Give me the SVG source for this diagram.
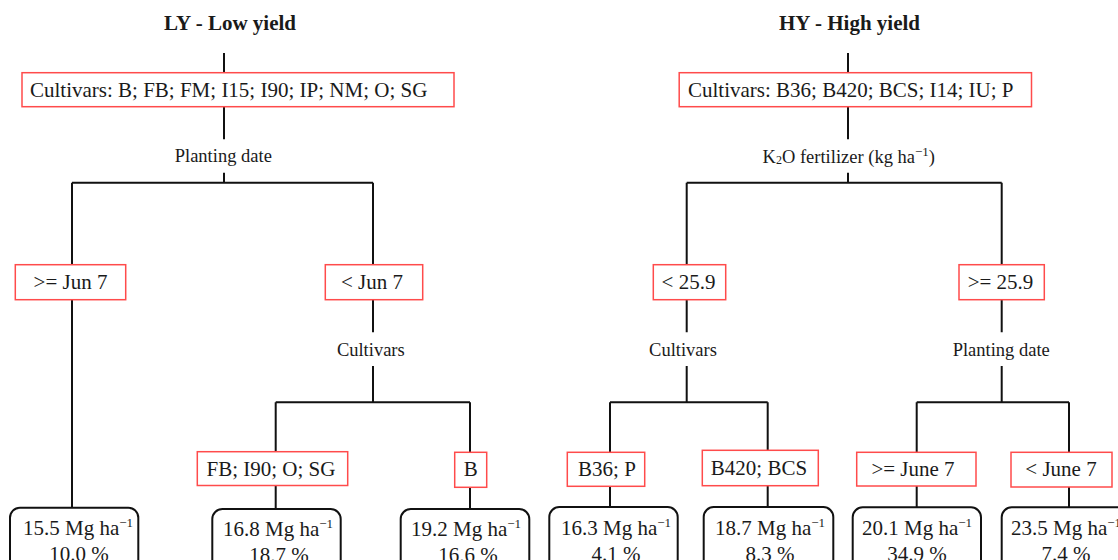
<svg xmlns="http://www.w3.org/2000/svg" width="1118" height="560" viewBox="0 0 1118 560">
<style>
text{font-family:"Liberation Serif","Times New Roman",serif;fill:#1a1a1a}
.title{font-size:21px;font-weight:bold;text-anchor:middle}
.bx{font-size:21px}
.c{text-anchor:middle}
.lbl{font-size:18.5px;text-anchor:middle}
.rb{fill:#fff;stroke:#ff4b4b;stroke-width:1.5}
.lf{fill:#fff;stroke:#111;stroke-width:2}
.ln{stroke:#111;stroke-width:2;fill:none}
.sup{font-size:13px}
</style>
<rect width="1118" height="560" fill="#fff"/>
<g id="connectors" class="ln">
<path d="M224 53V72.7M224 106.7V139.3M224 172.7V182.7M72 182.7H373M72 182.7V264.7M373 182.7V264.7"/>
<path d="M72 299.7V507.7"/>
<path d="M373 299.7V332.3M373 366V402.3M275.7 402.3H470M275.7 402.3V451.7M470 402.3V452.3M275.7 485.5V509M470 487.3V509"/>
<path d="M848 53V72.7M848 106.7V139.3M848 172.7V182.7M686.7 182.7H1001.7M686.7 182.7V264.7M1001.7 182.7V264.7"/>
<path d="M686.7 299.7V332.3M686.7 366V402.3M610 402.3H767.7M610 402.3V452.3M767.7 402.3V450.3M610 486.3V507M767.7 485.7V507"/>
<path d="M1001.7 299.7V332.3M1001.7 366V402.3M916.7 402.3H1069M916.7 402.3V452.3M1069 402.3V452.3M916.7 486V507.3M1069 487V507.3"/>
</g>
<g id="title-ly"><text class="title" x="230" y="30">LY - Low yield</text></g>
<g id="title-hy"><text class="title" x="849.5" y="30">HY - High yield</text></g>
<g id="root-ly"><rect class="rb" x="22" y="72.7" width="432" height="34"/><text class="bx" x="30" y="97.3">Cultivars: B; FB; FM; I15; I90; IP; NM; O; SG</text></g>
<g id="root-hy"><rect class="rb" x="679.2" y="72.7" width="352.3" height="34"/><text class="bx" x="688" y="97.3">Cultivars: B36; B420; BCS; I14; IU; P</text></g>
<g id="split-ly-1"><text class="lbl" x="223.3" y="162.3">Planting date</text></g>
<g id="split-hy-1"><text class="lbl" x="848.8" y="163.3">K<tspan font-size="12" dy="1">2</tspan><tspan dy="-1">O fertilizer (kg ha</tspan><tspan class="sup" dy="-7">−1</tspan><tspan dy="7">)</tspan></text></g>
<g id="cond-ly-ge"><rect class="rb" x="15.3" y="264.7" width="110.4" height="35"/><text class="bx c" x="70.5" y="289.3">&gt;= Jun 7</text></g>
<g id="cond-ly-lt"><rect class="rb" x="325.3" y="264.7" width="97.4" height="35"/><text class="bx c" x="372" y="289.3">&lt; Jun 7</text></g>
<g id="cond-hy-lt"><rect class="rb" x="653.3" y="264.7" width="72.4" height="35"/><text class="bx c" x="688.5" y="289.3">&lt; 25.9</text></g>
<g id="cond-hy-ge"><rect class="rb" x="959" y="264.7" width="85.3" height="35"/><text class="bx c" x="1000.5" y="289.3">&gt;= 25.9</text></g>
<g id="split-ly-2"><text class="lbl" x="370.8" y="355.7">Cultivars</text></g>
<g id="split-hy-2"><text class="lbl" x="683" y="355.7">Cultivars</text></g>
<g id="split-hy-3"><text class="lbl" x="1001.2" y="355.7">Planting date</text></g>
<g id="cond-ly-fb"><rect class="rb" x="197.3" y="451.7" width="150.4" height="33.8"/><text class="bx c" x="271" y="475.7">FB; I90; O; SG</text></g>
<g id="cond-ly-b"><rect class="rb" x="454.7" y="452.3" width="32" height="35"/><text class="bx c" x="470.7" y="476.3">B</text></g>
<g id="cond-hy-b36"><rect class="rb" x="567.3" y="452.3" width="77.4" height="34"/><text class="bx c" x="607" y="476">B36; P</text></g>
<g id="cond-hy-b420"><rect class="rb" x="702.3" y="450.3" width="116" height="35.4"/><text class="bx c" x="759" y="475">B420; BCS</text></g>
<g id="cond-hy-gejune"><rect class="rb" x="856.7" y="452.3" width="119.3" height="33.7"/><text class="bx c" x="913" y="476">&gt;= June 7</text></g>
<g id="cond-hy-ltjune"><rect class="rb" x="1011" y="452.3" width="101" height="34.7"/><text class="bx c" x="1061" y="476">&lt; June 7</text></g>
<g id="leaf-1"><rect class="lf" x="10" y="507.7" width="128.3" height="80" rx="10"/><text class="bx c" x="78" y="535">15.5 Mg ha<tspan class="sup" dy="-8">−1</tspan></text><text class="bx c" x="79" y="561">10.0 %</text></g>
<g id="leaf-2"><rect class="lf" x="212.3" y="509" width="128.4" height="80" rx="10"/><text class="bx c" x="278" y="535.5">16.8 Mg ha<tspan class="sup" dy="-8">−1</tspan></text><text class="bx c" x="279" y="561.5">18.7 %</text></g>
<g id="leaf-3"><rect class="lf" x="400.7" y="509" width="128.6" height="80" rx="10"/><text class="bx c" x="466" y="535.7">19.2 Mg ha<tspan class="sup" dy="-8">−1</tspan></text><text class="bx c" x="468" y="561.7">16.6 %</text></g>
<g id="leaf-4"><rect class="lf" x="549.3" y="507" width="128.4" height="80" rx="10"/><text class="bx c" x="616" y="535">16.3 Mg ha<tspan class="sup" dy="-8">−1</tspan></text><text class="bx c" x="616" y="561">4.1 %</text></g>
<g id="leaf-5"><rect class="lf" x="703.7" y="507" width="129.6" height="80" rx="10"/><text class="bx c" x="770" y="535">18.7 Mg ha<tspan class="sup" dy="-8">−1</tspan></text><text class="bx c" x="770" y="561">8.3 %</text></g>
<g id="leaf-6"><rect class="lf" x="852.7" y="507.3" width="128.3" height="80" rx="10"/><text class="bx c" x="917" y="535">20.1 Mg ha<tspan class="sup" dy="-8">−1</tspan></text><text class="bx c" x="917" y="561">34.9 %</text></g>
<g id="leaf-7"><rect class="lf" x="1001.7" y="507.3" width="128.3" height="80" rx="10"/><text class="bx c" x="1066" y="535">23.5 Mg ha<tspan class="sup" dy="-8">−1</tspan></text><text class="bx c" x="1066" y="561">7.4 %</text></g>
</svg>
